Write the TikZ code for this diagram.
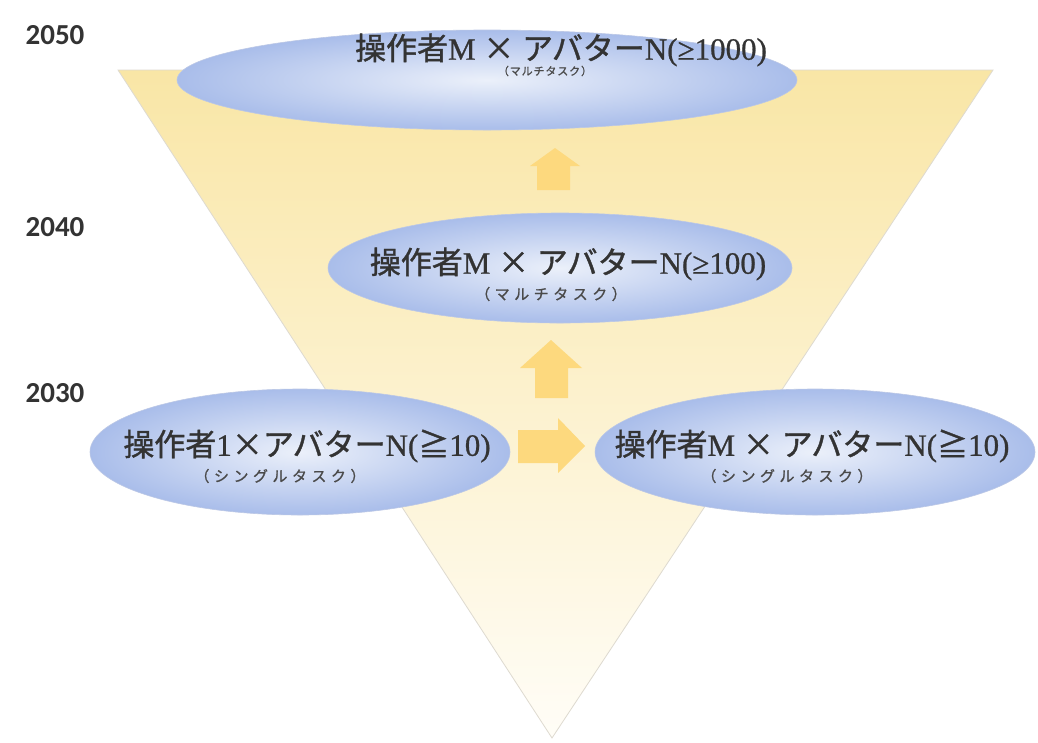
\documentclass[tikz,border=0pt]{standalone}
\usepackage{fontspec}
\setmainfont{Liberation Serif}[FakeBold=0.8]
\newfontfamily\cjk[FakeBold=1.2]{Noto Sans CJK JP}
\newfontfamily\cjksub[LetterSpace=30,FakeBold=1]{Noto Sans CJK JP}
\newfontfamily\cjksubs[LetterSpace=8,FakeBold=1]{Noto Sans CJK JP}
\newfontfamily\yearfont{Carlito}
\usetikzlibrary{shapes.geometric}
\definecolor{tritop}{HTML}{F9E6A6}
\definecolor{trimid}{HTML}{FEF3D6}
\definecolor{tribot}{HTML}{FFFDF7}
\definecolor{triedge}{HTML}{DEDAD0}
\definecolor{ellin}{HTML}{EBF0FA}
\definecolor{ellout}{HTML}{A9BDEA}
\definecolor{elledge}{HTML}{BCC8E6}
\definecolor{arrowc}{HTML}{FDD97E}
\definecolor{txt}{HTML}{333333}
\definecolor{subtxt}{HTML}{4A4A4A}
\tikzset{
  ellbox/.style={shape=ellipse, inner sep=0pt, draw=elledge, line width=0.6pt,
    inner color=ellin, outer color=ellout},
  maintext/.style={text=txt, inner sep=0pt, font=\fontsize{31}{33}\selectfont},
  subtext/.style={text=subtxt, inner sep=0pt, font=\cjksub\fontsize{15}{17}\selectfont},
  subtexts/.style={text=subtxt, inner sep=0pt, font=\cjksubs\fontsize{11}{13}\selectfont},
  yeartext/.style={text=txt, inner sep=0pt, font=\yearfont\bfseries\fontsize{29}{31}\selectfont},
  blockarrow/.style={fill=arrowc}
}
\begin{document}
\begin{tikzpicture}[x=1pt,y=-1pt]
\useasboundingbox (0,0) rectangle (1038,742);
\fill[white] (0,0) rectangle (1038,742);
% funnel
\shade[top color=tritop, middle color=trimid, bottom color=tribot]
  (118,70) -- (993,70) -- (552,738) -- cycle;
\draw[triedge, line width=0.8pt] (118,70) -- (993,70) -- (552,738) -- cycle;
% year labels
\node[yeartext] (y2050) at (55,35) {2050};
\node[yeartext] (y2040) at (55,227) {2040};
\node[yeartext] (y2030) at (55,393) {2030};
% ellipses
\node[ellbox, minimum width=620, minimum height=100] (e4) at (487,80) {};
\node[ellbox, minimum width=464, minimum height=110] (e3) at (560,268) {};
\node[ellbox, minimum width=420, minimum height=126] (e1) at (300,452) {};
\node[ellbox, minimum width=440, minimum height=126] (e2) at (815,452) {};
% texts
\node[maintext] (t4) at (561,50) {{\cjk 操作者}M {\cjk ×} {\cjk アバター}N(≥1000)};
\node[subtexts] (s4) at (545,71) {（マルチタスク）};
\node[maintext] (t3) at (568,264) {{\cjk 操作者}M {\cjk ×} {\cjk アバター}N(≥100)};
\node[subtext] (s3) at (551,294) {（マルチタスク）};
\node[maintext] (t1) at (307,446) {{\cjk 操作者}1{\cjk ×アバター}N({\cjk ≧}10)};
\node[subtext] (s1) at (280,476) {（シングルタスク）};
\node[maintext] (t2) at (812,446) {{\cjk 操作者}M {\cjk ×} {\cjk アバター}N({\cjk ≧}10)};
\node[subtext] (s2) at (787,476) {（シングルタスク）};
% block arrows
\fill[blockarrow] (537,190) -- (537,166) -- (530,166) -- (555,148) -- (580,166) -- (570,166) -- (570,190) -- cycle;
\fill[blockarrow] (535,398) -- (535,368) -- (520,368) -- (551,340) -- (582,368) -- (568,368) -- (568,398) -- cycle;
\fill[blockarrow] (518,430) -- (558,430) -- (558,418) -- (585,446) -- (558,473) -- (558,463) -- (518,463) -- cycle;
\end{tikzpicture}
\end{document}
